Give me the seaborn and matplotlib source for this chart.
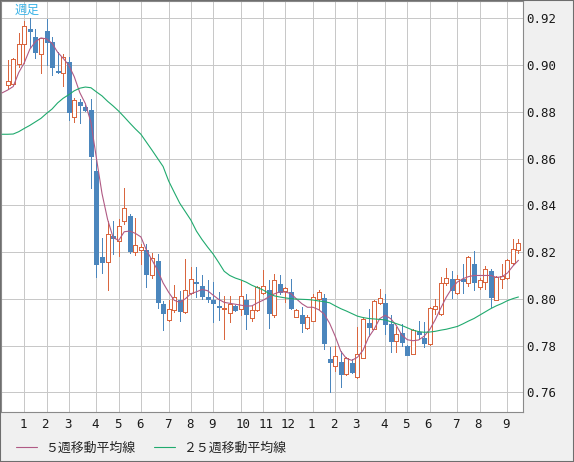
import numpy as np
import pandas as pd
import matplotlib
matplotlib.use("Agg")
import matplotlib.pyplot as plt
import seaborn as sns
from matplotlib.transforms import ScaledTranslation
from matplotlib.patches import Rectangle

# weekly candles (oldest first)
opens = [0.8916, 0.8917, 0.9003, 0.9089, 0.9153, 0.9119, 0.9046, 0.9146, 0.9097, 0.8974,
         0.8964, 0.9014, 0.8779, 0.8841, 0.8821, 0.8807, 0.8545, 0.8179, 0.8159, 0.8270,
         0.8247, 0.8333, 0.8354, 0.8200, 0.8211, 0.8207, 0.8101, 0.8161, 0.7977, 0.7911,
         0.7954, 0.7993, 0.7943, 0.8026, 0.8071, 0.8053, 0.8007, 0.7993, 0.7971, 0.7956,
         0.7940, 0.7971, 0.7957, 0.7996, 0.7919, 0.7953, 0.8024, 0.8039, 0.7933, 0.8064,
         0.8033, 0.8031, 0.7921, 0.7931, 0.7874, 0.7907, 0.8000, 0.8004, 0.7743, 0.7711,
         0.7731, 0.7679, 0.7726, 0.7664, 0.7747, 0.7896, 0.7871, 0.7983, 0.7981, 0.7893,
         0.7821, 0.7853, 0.7800, 0.7764, 0.7860, 0.7831, 0.7807, 0.7957, 0.7936, 0.8066,
         0.8087, 0.8023, 0.8083, 0.8069, 0.8147, 0.8051, 0.8071, 0.8119, 0.7997, 0.8086,
         0.8090, 0.8154, 0.8211]
highs = [0.9021, 0.9031, 0.9139, 0.9189, 0.9201, 0.9153, 0.9117, 0.9197, 0.9119, 0.9054,
         0.9046, 0.9036, 0.8861, 0.8854, 0.8830, 0.8854, 0.8593, 0.8261, 0.8333, 0.8333,
         0.8340, 0.8473, 0.8361, 0.8344, 0.8233, 0.8236, 0.8197, 0.8190, 0.7990, 0.7994,
         0.8061, 0.8033, 0.8171, 0.8136, 0.8136, 0.8104, 0.8079, 0.8074, 0.8029, 0.8014,
         0.8014, 0.7974, 0.8079, 0.8021, 0.7971, 0.8053, 0.8124, 0.8079, 0.8107, 0.8103,
         0.8050, 0.8086, 0.7956, 0.7964, 0.7929, 0.8021, 0.8039, 0.8021, 0.7793, 0.7800,
         0.7779, 0.7750, 0.7743, 0.7881, 0.7921, 0.7957, 0.7993, 0.8043, 0.8019, 0.7929,
         0.7879, 0.7893, 0.7804, 0.7871, 0.7907, 0.7900, 0.7964, 0.8000, 0.8093, 0.8133,
         0.8119, 0.8100, 0.8147, 0.8183, 0.8204, 0.8090, 0.8140, 0.8126, 0.8097, 0.8151,
         0.8169, 0.8257, 0.8254]
lows = [0.8897, 0.8914, 0.8993, 0.9007, 0.9077, 0.9029, 0.8964, 0.9000, 0.8957, 0.8967,
        0.8910, 0.8764, 0.8757, 0.8753, 0.8804, 0.8474, 0.8093, 0.8109, 0.8036, 0.8190,
        0.8183, 0.8321, 0.8197, 0.8187, 0.8150, 0.8051, 0.8090, 0.7959, 0.7866, 0.7907,
        0.7944, 0.7904, 0.7939, 0.8021, 0.8007, 0.8000, 0.7986, 0.7900, 0.7911, 0.7827,
        0.7900, 0.7947, 0.7929, 0.7871, 0.7907, 0.7950, 0.8021, 0.7876, 0.7924, 0.8021,
        0.7986, 0.7957, 0.7921, 0.7857, 0.7871, 0.7904, 0.7957, 0.7786, 0.7600, 0.7693,
        0.7624, 0.7676, 0.7683, 0.7661, 0.7746, 0.7839, 0.7871, 0.7979, 0.7850, 0.7774,
        0.7774, 0.7800, 0.7760, 0.7764, 0.7829, 0.7796, 0.7803, 0.7936, 0.7933, 0.8061,
        0.8004, 0.8019, 0.8026, 0.8054, 0.8037, 0.8040, 0.8040, 0.7966, 0.7994, 0.8047,
        0.8086, 0.8151, 0.8194]
closes = [0.8931, 0.9026, 0.9089, 0.9167, 0.9147, 0.9057, 0.9114, 0.9100, 0.8993, 0.8970,
          0.9036, 0.8800, 0.8850, 0.8830, 0.8807, 0.8611, 0.8147, 0.8159, 0.8276, 0.8261,
          0.8310, 0.8387, 0.8204, 0.8229, 0.8221, 0.8107, 0.8176, 0.7986, 0.7940, 0.7956,
          0.8010, 0.7950, 0.8039, 0.8086, 0.8066, 0.8014, 0.8001, 0.7981, 0.7964, 0.7960,
          0.7979, 0.7953, 0.8011, 0.7936, 0.7954, 0.8050, 0.8053, 0.7939, 0.8081, 0.8029,
          0.8047, 0.7960, 0.7953, 0.7896, 0.7921, 0.8010, 0.8029, 0.7810, 0.7729, 0.7754,
          0.7679, 0.7747, 0.7686, 0.7764, 0.7914, 0.7879, 0.7990, 0.8004, 0.7893, 0.7821,
          0.7850, 0.7814, 0.7760, 0.7867, 0.7850, 0.7811, 0.7961, 0.7971, 0.8067, 0.8090,
          0.8036, 0.8086, 0.8076, 0.8180, 0.8071, 0.8080, 0.8129, 0.8009, 0.8094, 0.8097,
          0.8166, 0.8214, 0.8237]

# moving averages, one week before the first candle included
ma5 = [0.8881, 0.8893, 0.8908, 0.8968, 0.9010, 0.9068, 0.9100, 0.9116, 0.9112, 0.9093,
       0.9055, 0.9029, 0.9000, 0.8950, 0.8882, 0.8835, 0.8755, 0.8600, 0.8450, 0.8340,
       0.8262, 0.8250, 0.8287, 0.8290, 0.8280, 0.8265, 0.8208, 0.8166, 0.8123, 0.8068,
       0.8028, 0.7994, 0.7985, 0.8000, 0.8022, 0.8030, 0.8040, 0.8035, 0.8016, 0.7998,
       0.7985, 0.7981, 0.7977, 0.7973, 0.7969, 0.7970, 0.7983, 0.7994, 0.8008, 0.8021,
       0.8030, 0.8029, 0.8023, 0.8000, 0.7979, 0.7964, 0.7964, 0.7954, 0.7935, 0.7895,
       0.7840, 0.7776, 0.7745, 0.7737, 0.7750, 0.7780, 0.7835, 0.7870, 0.7915, 0.7930,
       0.7915, 0.7886, 0.7845, 0.7825, 0.7821, 0.7824, 0.7840, 0.7868, 0.7910, 0.7960,
       0.8007, 0.8045, 0.8072, 0.8086, 0.8095, 0.8100, 0.8100, 0.8100, 0.8100, 0.8092,
       0.8094, 0.8110, 0.8140, 0.8165]
ma25 = [0.8704, 0.8704, 0.8705, 0.8715, 0.8729, 0.8742, 0.8757, 0.8772, 0.8793, 0.8812,
        0.8838, 0.8858, 0.8873, 0.8890, 0.8901, 0.8906, 0.8903, 0.8885, 0.8868, 0.8845,
        0.8825, 0.8803, 0.8778, 0.8752, 0.8727, 0.8704, 0.8670, 0.8636, 0.8601, 0.8566,
        0.8504, 0.8456, 0.8409, 0.8373, 0.8337, 0.8290, 0.8254, 0.8222, 0.8192, 0.8156,
        0.8118, 0.8100, 0.8089, 0.8081, 0.8071, 0.8058, 0.8048, 0.8038, 0.8024, 0.8013,
        0.8008, 0.8004, 0.8001, 0.7999, 0.7998, 0.7997, 0.7995, 0.7991, 0.7988, 0.7983,
        0.7970, 0.7958, 0.7948, 0.7937, 0.7926, 0.7920, 0.7916, 0.7914, 0.7912, 0.7910,
        0.7902, 0.7894, 0.7886, 0.7876, 0.7866, 0.7860, 0.7857, 0.7858, 0.7861, 0.7866,
        0.7870, 0.7876, 0.7882, 0.7893, 0.7905, 0.7916, 0.7930, 0.7944, 0.7958, 0.7970,
        0.7980, 0.7992, 0.8001, 0.8008]

month_weeks = [3, 7, 11, 16, 20, 24, 29, 33, 37, 42, 46, 50, 55, 59, 63, 68, 72, 76, 81, 85, 90]
month_labels = ["1", "2", "3", "4", "5", "6", "7", "8", "9", "10", "11", "12",
                "1", "2", "3", "4", "5", "6", "7", "8", "9"]
price_ticks = [0.76, 0.78, 0.80, 0.82, 0.84, 0.86, 0.88, 0.90, 0.92]

UP = "#d9663f"
DOWN = "#4b86bd"
MA5_COLOR = "#b05a84"
MA25_COLOR = "#20aa6e"
PX = 0.7  # about one pixel at 100 dpi

candles = pd.DataFrame({"week": np.arange(len(opens)), "open": opens, "high": highs,
                        "low": lows, "close": closes})
candles["up"] = candles["close"] >= candles["open"]
ma = pd.DataFrame({"week": np.arange(-1, len(opens)), "ma5": ma5, "ma25": ma25})

sns.set_style("white")
plt.rcParams["font.family"] = ["Noto Sans CJK JP", "DejaVu Sans"]

fig = plt.figure(figsize=(5.74, 4.62), dpi=100, facecolor="#f0f0f0")
ax = fig.add_axes([1 / 574, 50 / 462, 522 / 574, 411 / 462])
ax.set_facecolor("white")

# wicks then bodies
ax.vlines(candles["week"], candles["low"], candles["high"],
          colors=np.where(candles["up"], UP, DOWN), linewidth=PX, zorder=2,
          antialiased=False)
up = candles[candles["up"]]
dn = candles[~candles["up"]]
ax.bar(up["week"], up["close"] - up["open"], bottom=up["open"], width=0.72,
       facecolor="white", edgecolor=UP, linewidth=PX, zorder=3, antialiased=False)
ax.bar(dn["week"], dn["open"] - dn["close"], bottom=dn["close"], width=0.72,
       color=DOWN, edgecolor=DOWN, linewidth=PX, zorder=3, antialiased=False)

sns.lineplot(data=ma, x="week", y="ma5", color=MA5_COLOR, linewidth=0.8,
             label="５週移動平均線", ax=ax, zorder=4)
sns.lineplot(data=ma, x="week", y="ma25", color=MA25_COLOR, linewidth=0.8,
             label="２５週移動平均線", ax=ax, zorder=4)

ax.set_xlim(-1.196, 92.82)
ax.set_ylim(0.7516, 0.9274)
ax.set_xlabel("")
ax.set_ylabel("")

ax.set_xticks(month_weeks)
ax.set_xticklabels(month_labels)
ax.set_yticks(price_ticks)
ax.set_yticklabels([f"{v:.2f}" for v in price_ticks])
ax.yaxis.tick_right()
ax.tick_params(length=0, labelsize=9, labelcolor="#1a1a1a", labelfontfamily="DejaVu Sans Mono")
ax.tick_params(axis="x", pad=4.5)
ax.tick_params(axis="y", pad=2)
ax.grid(True, color="#c8c8c8", linewidth=PX, antialiased=False)
ax.set_axisbelow(True)
for s in ax.spines.values():
    s.set_color("#8a8a8a")
    s.set_linewidth(0.8)

shift = ScaledTranslation(-0.05, 0, fig.dpi_scale_trans)
for lbl in ax.get_xticklabels():
    lbl.set_horizontalalignment("left")
    lbl.set_transform(lbl.get_transform() + shift)

handles, labels = ax.get_legend_handles_labels()
ax.get_legend().remove()
fig.legend(handles, labels, loc="center left", bbox_to_anchor=(16 / 574, 14 / 462),
           ncol=2, frameon=False, fontsize=9.3, borderpad=0, borderaxespad=0,
           handlelength=1.62, handletextpad=0.6, columnspacing=1.5)

fig.text(15 / 574, 1 - 10.5 / 462, "週足", ha="left", va="center",
         color="#3db4e8", fontsize=9)

fig.add_artist(Rectangle((0, 0), 1, 1, transform=fig.transFigure, fill=False,
                         edgecolor="#6e6e6e", linewidth=1.5))

fig.savefig("out.png", dpi=100, facecolor=fig.get_facecolor())
